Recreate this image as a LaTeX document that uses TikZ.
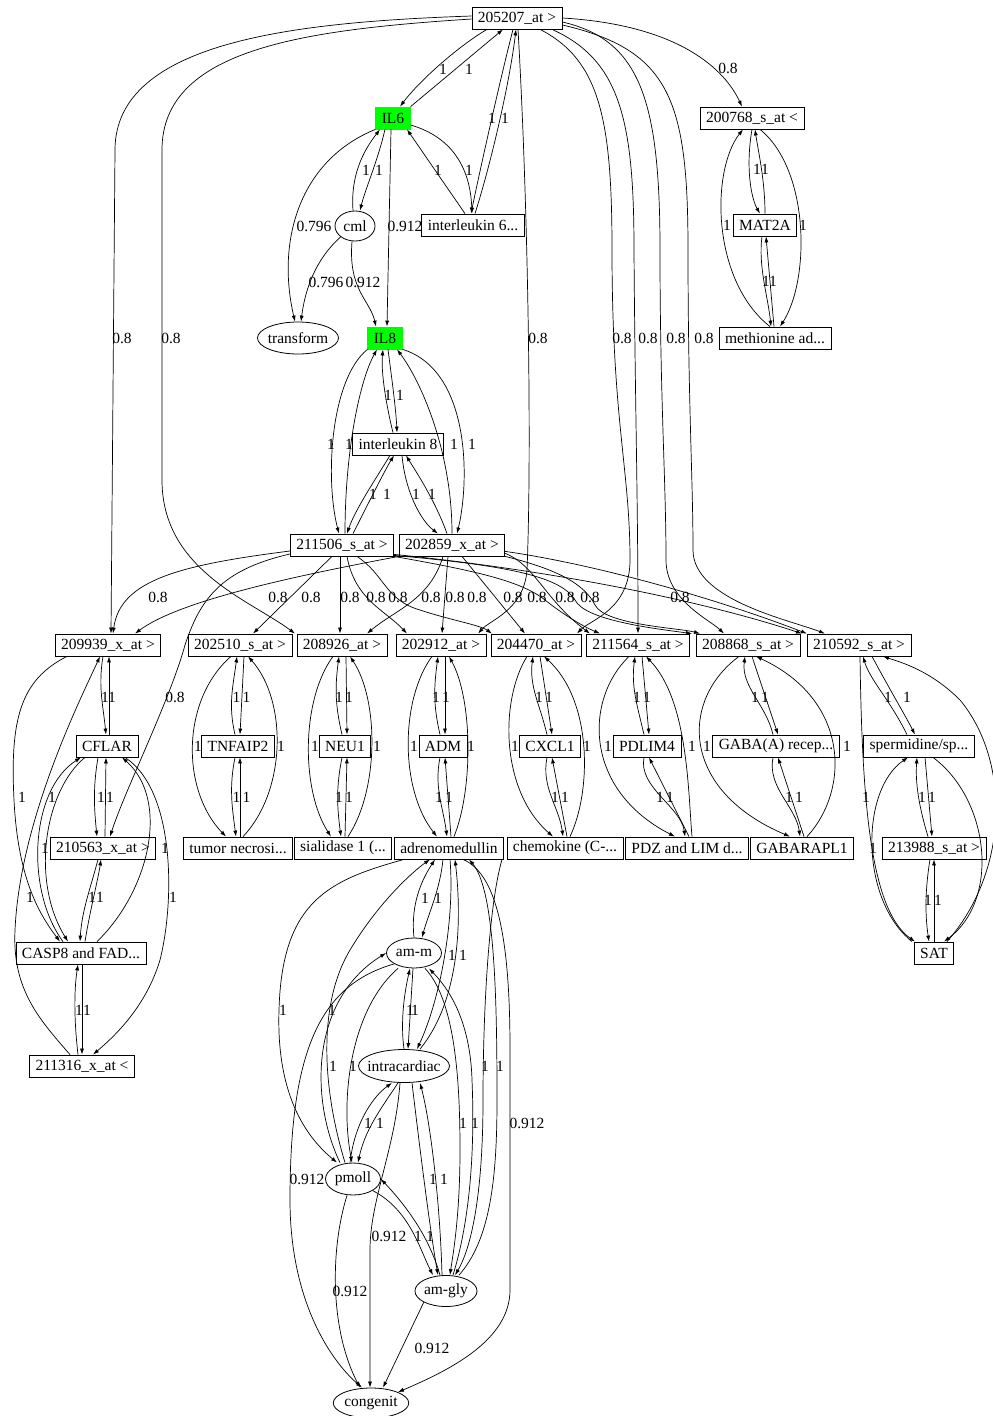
\documentclass[tikz,border=0pt]{standalone}
\usepackage{fontspec}
\setmainfont{Liberation Serif}
\usetikzlibrary{arrows.meta,shapes.geometric}
\definecolor{gvgreen}{RGB}{0,255,0}
\newcounter{labc}
\newcommand\elab[3]{\stepcounter{labc}\edef\labname{lab\arabic{labc}}\node[lb] (\labname) at (#1,#2) {#3};}
\tikzset{
 bx/.style={draw, line width=0.8pt, rectangle, inner xsep=6pt, inner ysep=0pt, minimum height=22pt, font=\fontsize{15.5}{18}\selectfont},
 gbx/.style={bx, draw=gvgreen, fill=gvgreen},
 el/.style={draw, line width=0.8pt, ellipse, inner sep=0pt, font=\fontsize{15.5}{18}\selectfont},
 e/.style={draw, line width=0.7pt, -{Latex[length=6pt,width=4pt]}},
 lb/.style={inner sep=0pt, font=\fontsize{15.5}{18}\selectfont},
}
% T, M, B, left control x, left label x, right control x, right label x, upper label x, lower label x
\newcommand\mytrio[9]{%
 \draw[e] ([xshift=4pt]#1.south) -- ([xshift=2pt]#2.north);
 \draw[e] ([xshift=-3pt]#2.north) .. controls +(-7,-30) and +(-4,30) .. ([xshift=-3pt]#1.south);
 \draw[e] ([xshift=-3pt]#2.south) .. controls +(-6,30) and +(-4,-30) .. ([xshift=-2pt]#3.north);
 \draw[e] ([xshift=2pt]#3.north) -- ([xshift=2pt]#2.south);
 \draw[e] ([xshift=-9pt]#1.south) .. controls (#4,700) and (#4,790) .. ([xshift=-12pt]#3.north);
 \draw[e] ([xshift=5pt]#3.north) .. controls (#6,790) and (#6,700) .. ([xshift=8pt]#1.south);
 \elab{#5}{746}{1}\elab{#7}{746}{1}
 \elab{#8-5}{697}{1}\elab{#8+5}{697}{1}
 \elab{#9-5}{797}{1}\elab{#9+5}{797}{1}
}
\begin{document}
\begin{tikzpicture}[x=1pt,y=-1pt]
\useasboundingbox (0,0) rectangle (993,1416);
% nodes
\node[bx] (n205207) at (517,18) {205207\_at \textgreater};
\node[gbx] (IL6) at (393,118) {IL6};
\node[bx] (n200768) at (752,118) {200768\_s\_at \textless};
\node[el, minimum width=40pt, minimum height=30pt] (cml) at (355,226) {cml};
\node[bx] (il6t) at (473,225) {interleukin 6...};
\node[bx] (MAT2A) at (765,225) {MAT2A};
\node[el, minimum width=81pt, minimum height=32pt, inner xsep=-2pt] (transform) at (298,338) {transform};
\node[gbx] (IL8) at (385,338) {IL8};
\node[bx] (methionine) at (775,338) {methionine ad...};
\node[bx] (il8t) at (398,444) {interleukin 8};
\node[bx] (n211506) at (342,545) {211506\_s\_at \textgreater};
\node[bx] (n202859) at (452,545) {202859\_x\_at \textgreater};
\node[bx] (n209939) at (108,645) {209939\_x\_at \textgreater};
\node[bx] (n202510) at (240,645) {202510\_s\_at \textgreater};
\node[bx] (n208926) at (342,645) {208926\_at \textgreater};
\node[bx] (n202912) at (441,645) {202912\_at \textgreater};
\node[bx] (n204470) at (536,645) {204470\_at \textgreater};
\node[bx] (n211564) at (638,645) {211564\_s\_at \textgreater};
\node[bx] (n208868) at (748,645) {208868\_s\_at \textgreater};
\node[bx] (n210592) at (859,645) {210592\_s\_at \textgreater};
\node[bx] (CFLAR) at (107,746) {CFLAR};
\node[bx] (TNFAIP2) at (238,746) {TNFAIP2};
\node[bx] (NEU1) at (345,746) {NEU1};
\node[bx] (ADM) at (443,746) {ADM};
\node[bx] (CXCL1) at (550,746) {CXCL1};
\node[bx] (PDLIM4) at (647,746) {PDLIM4};
\node[bx] (GABA) at (776,746) {GABA(A) recep...};
\node[bx] (sperm) at (919,746) {spermidine/sp...};
\node[bx] (n210563) at (103,848) {210563\_x\_at \textgreater};
\node[bx] (tumor) at (238,848) {tumor necrosi...};
\node[bx] (sial) at (343,848) {sialidase 1 (...};
\node[bx] (adm2) at (449,848) {adrenomedullin};
\node[bx] (chemo) at (565,848) {chemokine (C-...};
\node[bx] (pdz) at (687,848) {PDZ and LIM d...};
\node[bx] (gabarapl) at (802,848) {GABARAPL1};
\node[bx] (n213988) at (934,848) {213988\_s\_at \textgreater};
\node[bx] (casp) at (81,953) {CASP8 and FAD...};
\node[bx] (SAT) at (934,953) {SAT};
\node[el, minimum width=55pt, minimum height=30pt] (amm) at (414,953) {am-m};
\node[bx] (n211316) at (82,1066) {211316\_x\_at \textless};
\node[el, minimum width=91pt, minimum height=33pt, inner xsep=-5pt] (intra) at (404,1066) {intracardiac};
\node[el, minimum width=55pt, minimum height=32pt] (pmoll) at (353,1179) {pmoll};
\node[el, minimum width=62pt, minimum height=31pt] (amgly) at (446,1291) {am-gly};
\node[el, minimum width=74pt, minimum height=30pt] (congenit) at (371,1403) {congenit};

% ---- top: 205207
\draw[e] ([xshift=-30pt]n205207.south) .. controls (460,45) and (420,80) .. ([xshift=7pt]IL6.north);
\draw[e] (IL6.north east) -- ([xshift=-14pt]n205207.south);
\draw[e] ([xshift=-4pt]n205207.south) .. controls (500,80) and (480,170) .. ([xshift=-2pt]il6t.north);
\draw[e] ([xshift=2pt]il6t.north) .. controls (492,160) and (510,80) .. ([xshift=-1pt]n205207.south);
\draw[e] ([xshift=1pt]n205207.south) .. controls (528,200) and (532,450) .. (527,570) .. controls (524,610) and (490,620) .. ([xshift=37pt]n202912.north);
\draw[e] ([xshift=23pt]n205207.south) .. controls (600,60) and (612,120) .. (612,250) .. controls (612,420) and (630,470) .. (630,560) .. controls (630,610) and (590,620) .. ([xshift=41pt]n204470.north);
\draw[e] ([xshift=35pt]n205207.south) .. controls (620,60) and (634,120) .. (634,250) .. controls (635,400) and (638,500) .. (n211564.north);
\draw[e] ([yshift=-4pt]n205207.east) .. controls (640,40) and (660,100) .. (660,250) .. controls (660,400) and (666,480) .. (666,560) .. controls (666,600) and (710,620) .. ([xshift=-24pt]n208868.north);
\draw[e] ([yshift=-7pt]n205207.east) .. controls (670,50) and (688,100) .. (688,250) .. controls (688,400) and (693,480) .. (693,550) .. controls (693,600) and (790,620) .. ([xshift=-34pt]n210592.north);
\draw[e] (n205207.east) .. controls (680,25) and (725,70) .. ([xshift=-10pt]n200768.north);
\draw[e] ([yshift=2pt]n205207.west) .. controls (300,22) and (115,40) .. (115,150) -- ([xshift=3pt]n209939.north);
\draw[e] ([yshift=-1pt]n205207.west) .. controls (300,30) and (162,50) .. (162,150) -- (162,480) .. controls (162,570) and (250,600) .. ([xshift=-47pt]n208926.north);
\elab{443}{69}{1}\elab{469}{69}{1}\elab{492}{118}{1}\elab{505}{118}{1}
\elab{728}{68}{0.8}\elab{122}{338}{0.8}\elab{171}{338}{0.8}\elab{538}{338}{0.8}
\elab{622}{338}{0.8}\elab{648}{338}{0.8}\elab{676}{338}{0.8}\elab{704}{338}{0.8}

% ---- IL6
\draw[e] ([xshift=-8pt]IL6.south) .. controls (378,160) and (365,190) .. ([xshift=5pt]cml.north);
\draw[e] ([xshift=-2pt]cml.north) .. controls (350,170) and (368,145) .. ([xshift=-13pt]IL6.south);
\draw[e] (IL6.south west) .. controls (300,160) and (276,240) .. ([xshift=-3pt]transform.north);
\draw[e] (cml.south west) .. controls (315,260) and (305,290) .. ([xshift=3pt]transform.north);
\draw[e] ([xshift=-3pt]cml.south) .. controls (348,290) and (370,300) .. ([xshift=-9pt]IL8.north);
\draw[e] ([xshift=-2pt]IL6.south) -- ([xshift=2pt]IL8.north);
\draw[e] ([yshift=-7pt]IL6.east) .. controls (445,135) and (470,160) .. ([xshift=-1pt]il6t.north);
\draw[e] ([xshift=-8pt]il6t.north) -- ([xshift=14pt]IL6.south);
\elab{366}{170}{1}\elab{379}{170}{1}\elab{438}{170}{1}\elab{469}{170}{1}
\elab{314}{226}{0.796}\elab{405}{226}{0.912}\elab{326}{282}{0.796}\elab{363}{282}{0.912}

% ---- 200768
\draw[e] (n200768.south) .. controls (745,170) and (752,200) .. ([xshift=-5pt]MAT2A.north);
\draw[e] (MAT2A.north) .. controls (765,180) and (758,150) .. ([xshift=3pt]n200768.south);
\draw[e] ([xshift=-5pt]methionine.north) .. controls (711,280) and (711,170) .. ([xshift=-9pt]n200768.south);
\draw[e] ([xshift=8pt]n200768.south) .. controls (810,170) and (810,280) .. ([xshift=5pt]methionine.north);
\draw[e] ([xshift=-3pt]MAT2A.south) .. controls +(-4,30) and +(-3,-30) .. ([xshift=-4pt]methionine.north);
\draw[e] ([xshift=-1pt]methionine.north) -- ([xshift=1pt]MAT2A.south);
\elab{757}{169}{1}\elab{765}{169}{1}\elab{727}{225}{1}\elab{803}{225}{1}\elab{766}{281}{1}\elab{773}{281}{1}

% ---- IL8
\draw[e] ([xshift=-5pt]il8t.north) .. controls (385,400) and (381,370) .. ([xshift=-2pt]IL8.south);
\draw[e] ([xshift=3pt]IL8.south) .. controls (392,380) and (396,410) .. ([xshift=-1pt]il8t.north);
\draw[e] (IL8.south west) .. controls (330,380) and (325,480) .. ([xshift=-3pt]n211506.north);
\draw[e] ([xshift=3pt]n211506.north) .. controls (345,450) and (360,380) .. ([xshift=-8pt]IL8.south);
\draw[e] (IL8.south east) .. controls (470,370) and (470,480) .. ([xshift=5pt]n202859.north);
\draw[e] (n202859.north) .. controls (452,450) and (420,380) .. ([xshift=12pt]IL8.south);
\draw[e] ([xshift=-8pt]il8t.south) .. controls (375,480) and (355,510) .. ([xshift=5pt]n211506.north);
\draw[e] ([xshift=11pt]n211506.north) .. controls (370,500) and (385,470) .. ([xshift=-4pt]il8t.south);
\draw[e] ([xshift=4pt]il8t.south) .. controls (405,490) and (420,520) .. ([xshift=-14pt]n202859.north);
\draw[e] ([xshift=-5pt]n202859.north) .. controls (435,500) and (415,470) .. ([xshift=8pt]il8t.south);
\elab{388}{395}{1}\elab{400}{395}{1}\elab{331}{444}{1}\elab{349}{444}{1}\elab{454}{444}{1}\elab{472}{444}{1}
\elab{373}{494}{1}\elab{387}{494}{1}\elab{416}{494}{1}\elab{432}{494}{1}

% ---- middle band
\draw[e] ([yshift=-6pt]n211506.west) .. controls (180,565) and (120,580) .. ([xshift=5pt]n209939.north);
\draw[e] ([yshift=-9pt]n211506.west) .. controls (220,570) and (200,600) .. (185,645) .. controls (170,700) and (125,790) .. ([xshift=7pt]n210563.north);
\draw[e] (n202859.south west) .. controls (300,575) and (180,600) .. ([xshift=27pt]n209939.north);
\draw[e] ([xshift=-10pt]n211506.south) -- ([xshift=13pt]n202510.north);
\draw[e] ([xshift=-2pt]n211506.south) -- ([xshift=-2pt]n208926.north);
\draw[e] ([xshift=5pt]n211506.south) .. controls (355,600) and (385,610) .. ([xshift=-34pt]n202912.north);
\draw[e] ([xshift=15pt]n211506.south) .. controls (385,575) and (385,600) .. (420,610) .. controls (450,620) and (480,625) .. ([xshift=-44pt]n204470.north);
\draw[e] ([xshift=-9pt]n202859.south) .. controls (430,600) and (395,610) .. ([xshift=25pt]n208926.north);
\draw[e] ([xshift=-4pt]n202859.south) -- ([xshift=1pt]n202912.north);
\draw[e] ([xshift=10pt]n202859.south) -- ([xshift=-11pt]n204470.north);
\draw[e] (n211506.south east) .. controls (470,570) and (520,580) .. (545,600) .. controls (560,612) and (580,625) .. ([xshift=-38pt]n211564.north);
\draw[e] ([yshift=3pt]n202859.south east) .. controls (535,565) and (545,600) .. ([xshift=-48pt]n211564.north);
\draw[e] ([yshift=1pt]n211506.south east) .. controls (500,565) and (560,575) .. (575,600) .. controls (585,620) and (650,628) .. ([xshift=-56pt]n208868.north);
\draw[e] (n202859.south east) .. controls (560,570) and (585,585) .. (595,605) .. controls (605,625) and (680,628) .. ([xshift=-48pt]n208868.north);
\draw[e] ([yshift=2pt]n211506.south east) .. controls (550,570) and (700,600) .. ([xshift=-57pt]n210592.north);
\draw[e] ([yshift=5pt]n202859.south east) .. controls (600,565) and (720,600) .. ([xshift=-52pt]n210592.north);
\elab{158}{597}{0.8}\elab{278}{597}{0.8}\elab{311}{597}{0.8}\elab{350}{597}{0.8}\elab{376}{597}{0.8}
\elab{398}{597}{0.8}\elab{431}{597}{0.8}\elab{455}{597}{0.8}\elab{477}{597}{0.8}\elab{513}{597}{0.8}
\elab{537}{597}{0.8}\elab{565}{597}{0.8}\elab{590}{597}{0.8}\elab{680}{597}{0.8}\elab{175}{697}{0.8}

% ---- simple columns
\mytrio{n202510}{TNFAIP2}{tumor}{181}{198}{287}{281}{241.5}{241.5}
\mytrio{n208926}{NEU1}{sial}{301}{315}{379}{377}{344}{344}
\mytrio{n202912}{ADM}{adm2}{400}{414}{473}{471}{441}{444}
\mytrio{n204470}{CXCL1}{chemo}{500}{515}{592}{587}{544}{560}
\mytrio{n211564}{PDLIM4}{pdz}{584}{608}{688}{692}{642}{665}
\mytrio{n208868}{GABA}{gabarapl}{680}{707}{850}{847}{760}{794}

% ---- left column
\draw[e] ([xshift=-5pt]n209939.south) .. controls +(-5,30) and +(-3,-30) .. ([xshift=-1pt]CFLAR.north);
\draw[e] ([xshift=2pt]CFLAR.north) -- ([xshift=1pt]n209939.south);
\draw[e] ([xshift=-9pt]CFLAR.south) .. controls +(-5,30) and +(-3,-30) .. ([xshift=-6pt]n210563.north);
\draw[e] ([xshift=2pt]n210563.north) -- ([xshift=-1pt]CFLAR.south);
\draw[e] ([xshift=-5pt]n210563.south) .. controls (90,890) and (82,910) .. ([xshift=-1pt]casp.north);
\draw[e] ([xshift=4pt]casp.north) .. controls (90,910) and (98,880) .. ([xshift=-2pt]n210563.south);
\draw[e] ([xshift=1pt]casp.south) -- (n211316.north);
\draw[e] ([xshift=-4pt]n211316.north) .. controls (74,1020) and (74,990) .. ([xshift=-3pt]casp.south);
\draw[e] ([xshift=-41pt]n209939.south) .. controls (20,680) and (10,720) .. (14,800) .. controls (18,880) and (40,915) .. ([xshift=-21pt]casp.north);
\draw[e] ([xshift=-12pt]n211316.north) .. controls (40,1020) and (12,990) .. (15,930) .. controls (20,820) and (80,700) .. ([xshift=-8pt]n209939.south);
\draw[e] ([xshift=-22pt]CFLAR.south) .. controls (45,790) and (30,880) .. ([xshift=-13pt]casp.north);
\draw[e] ([xshift=-18pt]casp.north) .. controls (25,890) and (30,790) .. ([xshift=-26pt]CFLAR.south);
\draw[e] ([xshift=16pt]casp.north) .. controls (150,890) and (170,800) .. ([xshift=15pt]CFLAR.south);
\draw[e] ([xshift=18pt]CFLAR.south) .. controls (175,790) and (175,900) .. (160,960) .. controls (145,1010) and (110,1040) .. ([xshift=11pt]n211316.north);
\elab{105}{697}{1}\elab{112}{697}{1}\elab{101}{797}{1}\elab{110}{797}{1}\elab{92}{897}{1}\elab{100}{897}{1}
\elab{79}{1010}{1}\elab{87}{1010}{1}\elab{22}{797}{1}\elab{30}{897}{1}\elab{52}{797}{1}\elab{45}{848}{1}
\elab{165}{848}{1}\elab{173}{897}{1}

% ---- adrenomedullin cluster
\draw[e] (amm.north) .. controls (410,900) and (425,875) .. ([xshift=-14pt]adm2.south);
\draw[e] ([xshift=-6pt]adm2.south) .. controls (440,890) and (428,915) .. ([xshift=8pt]amm.north);
\draw[e] ([xshift=1pt]adm2.south) .. controls (455,920) and (440,1000) .. ([xshift=13pt]intra.north);
\draw[e] ([xshift=16pt]intra.north) .. controls (460,1000) and (462,920) .. ([xshift=6pt]adm2.south);
\draw[e] ([xshift=-1pt]amm.south) -- ([xshift=4pt]intra.north);
\draw[e] (intra.north) .. controls (400,1020) and (405,990) .. ([xshift=-4pt]amm.south);
\draw[e] ([xshift=-45pt]adm2.south) .. controls (330,880) and (282,900) .. (279,1010) .. controls (276,1100) and (310,1140) .. ([xshift=-16pt]pmoll.north);
\draw[e] ([xshift=-8pt]pmoll.north) .. controls (320,1080) and (320,1000) .. (350,950) .. controls (380,900) and (415,870) .. ([xshift=-19pt]adm2.south);
\draw[e] ([xshift=-13pt]pmoll.north) .. controls (310,1100) and (310,1000) .. (amm.west);
\draw[e] ([xshift=-16pt]amm.south) .. controls (350,1010) and (340,1100) .. ([xshift=-1pt]pmoll.north);
\draw[e] ([xshift=-2pt]adm2.south east) .. controls (490,900) and (483,1000) .. (483,1100) .. controls (483,1200) and (470,1250) .. ([xshift=9pt]amgly.north);
\draw[e] ([xshift=13pt]amgly.north) .. controls (490,1240) and (497,1180) .. (497,1100) .. controls (497,1000) and (495,890) .. ([xshift=20pt]adm2.south);
\draw[e] ([xshift=11pt]amm.south) .. controls (455,1000) and (460,1080) .. (460,1150) .. controls (460,1220) and (452,1260) .. ([xshift=4pt]amgly.north);
\draw[e] ([xshift=7pt]amgly.north) .. controls (470,1220) and (475,1150) .. (472,1080) .. controls (470,1010) and (440,980) .. ([xshift=15pt]amm.south);
\draw[e] ([xshift=8pt]intra.south) .. controls (420,1150) and (430,1230) .. ([xshift=-8pt]amgly.north);
\draw[e] ([xshift=-4pt]amgly.north) .. controls (440,1200) and (430,1120) .. ([xshift=16pt]intra.south);
\draw[e] ([xshift=-3pt]pmoll.north) .. controls (355,1120) and (375,1095) .. ([xshift=-12pt]intra.south);
\draw[e] ([xshift=-6pt]intra.south) .. controls (380,1110) and (365,1130) .. ([xshift=5pt]pmoll.north);
\draw[e] (pmoll.south east) .. controls (410,1210) and (420,1250) .. ([xshift=-13pt]amgly.north);
\draw[e] ([xshift=-6pt]amgly.north) .. controls (430,1240) and (410,1210) .. (pmoll.east);
\draw[e] (amm.south west) .. controls (320,985) and (290,1050) .. (290,1200) .. controls (290,1300) and (330,1360) .. ([xshift=-9pt]congenit.north);
\draw[e] ([xshift=14pt]adm2.south) .. controls (500,875) and (510,950) .. (510,1050) -- (510,1290) .. controls (510,1340) and (450,1370) .. (congenit.north east);
\draw[e] ([xshift=-4pt]intra.south) .. controls (395,1150) and (370,1200) .. (370,1250) -- ([xshift=-1pt]congenit.north);
\draw[e] ([xshift=-6pt]pmoll.south) .. controls (330,1250) and (330,1330) .. ([xshift=-11pt]congenit.north);
\draw[e] (amgly.south west) -- ([xshift=12pt]congenit.north);
\elab{425}{898}{1}\elab{438}{898}{1}\elab{452}{955}{1}\elab{463}{955}{1}
\elab{283}{1010}{1}\elab{332}{1010}{1}\elab{410}{1010}{1}\elab{415}{1010}{1}
\elab{333}{1066}{1}\elab{353}{1066}{1}\elab{485}{1066}{1}\elab{500}{1066}{1}
\elab{368}{1123}{1}\elab{380}{1123}{1}\elab{463}{1123}{1}\elab{475}{1123}{1}
\elab{433}{1179}{1}\elab{444}{1179}{1}\elab{418}{1236}{1}\elab{430}{1236}{1}
\elab{307}{1179}{0.912}\elab{527}{1123}{0.912}\elab{350}{1291}{0.912}\elab{389}{1236}{0.912}\elab{432}{1348}{0.912}

% ---- spermidine cluster
\draw[e] ([xshift=-12pt]sperm.north) .. controls (890,700) and (870,680) .. ([xshift=4pt]n210592.south);
\draw[e] ([xshift=13pt]n210592.south) .. controls (890,690) and (905,715) .. ([xshift=-4pt]sperm.north);
\draw[e] ([xshift=1pt]n210592.south) .. controls (862,800) and (870,910) .. ([xshift=-19pt]SAT.north);
\draw[e] ([xshift=13pt]SAT.north) .. controls (1010,870) and (1010,760) .. (960,700) .. controls (930,670) and (900,662) .. ([xshift=24pt]n210592.south);
\draw[e] ([xshift=14pt]sperm.south) .. controls (990,800) and (1000,900) .. ([xshift=10pt]SAT.north);
\draw[e] ([xshift=-22pt]SAT.north) .. controls (860,900) and (860,790) .. ([xshift=-11pt]sperm.south);
\draw[e] ([xshift=6pt]sperm.south) -- ([xshift=-2pt]n213988.north);
\draw[e] ([xshift=-6pt]n213988.north) .. controls (920,810) and (915,785) .. ([xshift=-2pt]sperm.south);
\draw[e] (SAT.north) -- (n213988.south);
\draw[e] ([xshift=-4pt]n213988.south) .. controls (925,890) and (925,915) .. ([xshift=-5pt]SAT.north);
\elab{888}{697}{1}\elab{907}{697}{1}\elab{866}{797}{1}\elab{873}{848}{1}
\elab{922}{797}{1}\elab{932}{797}{1}\elab{928}{900}{1}\elab{938}{900}{1}
\end{tikzpicture}
\end{document}
